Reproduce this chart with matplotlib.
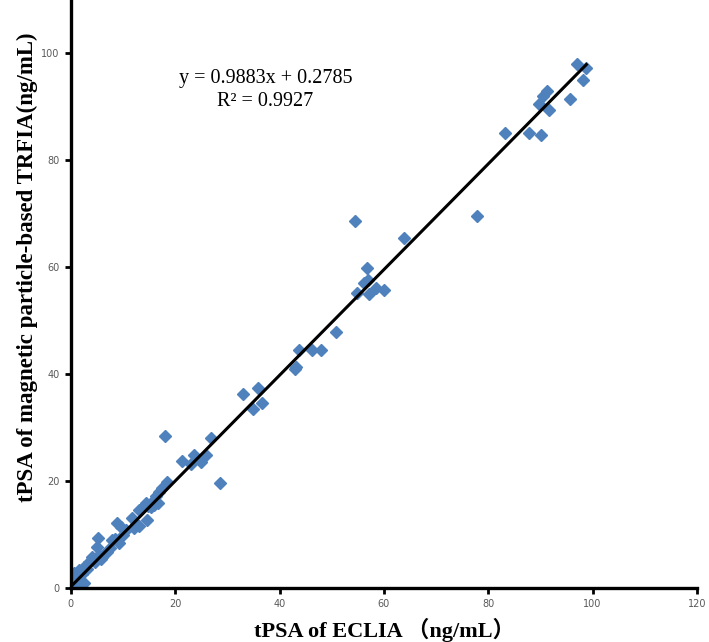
import numpy as np
from matplotlib import pyplot as plt

# tPSA values: ECLIA (x) vs magnetic particle-based TRFIA (y)
eclia = [97.1, 98.8, 98.1, 91.2, 90.4, 89.8, 91.6, 95.6, 87.9, 90.2, 83.3,
         77.9, 63.9, 54.5,
         56.8, 56.2, 56.9, 54.9, 57.2, 58.5, 60.1,
         50.9, 43.8, 46.3, 48.0, 43.2, 43.0,
         32.9, 35.9, 34.9, 36.6,
         18.0, 26.9, 21.3, 23.6, 23.0, 25.0, 25.9, 28.6, 18.4, 17.5, 16.9,
         16.3, 16.6, 15.9, 16.0, 15.4, 14.4, 14.8, 13.1, 13.6, 11.7, 14.6,
         12.4, 13.0, 12.0, 8.8, 9.6, 10.6, 9.2, 7.9, 10.0, 8.5, 5.2, 5.0,
         5.4, 6.9, 6.3, 5.8, 4.0, 4.6, 3.5, 3.0, 2.5, 1.5, 2.2, 0.6, 1.0,
         0.2, 0.5, 1.2, 2.5, 0.3, 1.8, 7.4, 6.0]
trfia = [98.1, 97.2, 95.0, 93.0, 92.0, 90.5, 89.4, 91.4, 85.1, 84.7, 85.1,
         69.6, 65.5, 68.7,
         59.9, 57.1, 57.6, 55.2, 55.0, 56.2, 55.8,
         47.9, 44.6, 44.6, 44.6, 41.4, 41.0,
         36.3, 37.5, 33.5, 34.7,
         28.5, 28.0, 23.7, 24.8, 23.3, 23.5, 24.8, 19.6, 19.8, 18.8, 17.9,
         17.2, 16.0, 15.6, 16.5, 15.1, 15.9, 15.4, 14.6, 14.9, 13.2, 12.7,
         12.0, 11.6, 11.2, 12.1, 11.4, 10.8, 8.4, 9.0, 10.0, 9.2, 9.3, 7.6,
         6.2, 6.7, 6.3, 5.5, 5.8, 4.8, 4.9, 3.6, 3.9, 3.4, 2.6, 2.8, 2.0,
         1.5, 0.8, 0.6, 0.9, 0.3, 1.4, 7.5, 5.9]

slope, intercept, r2 = 0.9883, 0.2785, 0.9927

fig = plt.figure(figsize=(7.09, 6.42), dpi=100)
ax = fig.add_axes([0.100, 0.084, 0.883, 0.916])

ax.plot(eclia, trfia, 'D', color='#4F81BD', markersize=6, zorder=2)
xfit = np.array([0, max(eclia)])
ax.plot(xfit, slope * xfit + intercept, color='black', linewidth=2.2, zorder=3)

ax.text(37.3, 93.2, f"y = {slope}x + {intercept}\nR² = {r2}", ha='center',
        va='center', fontsize=14.5, family='Liberation Serif', linespacing=1.25)

ax.set_xlim(0, 120)
ax.set_ylim(0, 110)
ax.set_xticks(range(0, 121, 20))
ax.set_yticks(range(0, 101, 20))
for side in ['top', 'right']:
    ax.spines[side].set_visible(False)
for side in ['left', 'bottom']:
    ax.spines[side].set_linewidth(2.4)
ax.tick_params(axis='both', direction='out', length=4, width=2,
               labelsize=7, labelcolor='#595959', pad=4)

ax.set_xlabel("tPSA of ECLIA （ng/mL）", fontsize=16, fontweight='bold',
              family=['Liberation Serif', 'Noto Sans CJK SC'])
ax.xaxis.set_label_coords(0.5, -0.05)
fig.text(0.038, 0.583, "tPSA of magnetic particle-based TRFIA(ng/mL)",
         rotation=90, ha='center', va='center', fontsize=16.5,
         fontweight='bold', family='Liberation Serif')

fig.savefig('out.png', dpi=100)
